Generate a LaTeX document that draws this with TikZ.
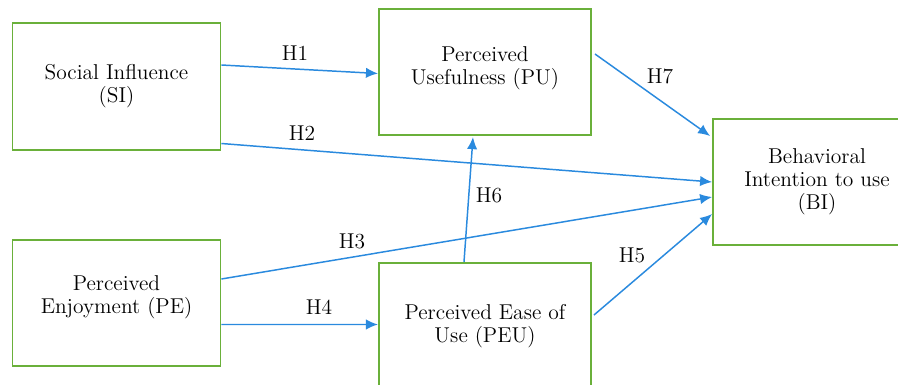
\documentclass[tikz,border=0pt]{standalone}
\usepackage{xcolor}
\usepackage{tikz}
\usetikzlibrary{arrows.meta, calc}

\definecolor{boxgreen}{RGB}{106,176,58}
\definecolor{arrblue}{RGB}{42,138,222}

\begin{document}
\begin{tikzpicture}[
  x=0.019cm, y=-0.019cm,
  every node/.style={font=\fontsize{11.6}{12.4}\selectfont},
  box/.style={rectangle, draw=boxgreen, line width=1pt, minimum width=3.95cm, minimum height=2.4cm, align=center},
  arr/.style={-{Latex[length=6.5pt,width=5.6pt]}, line width=0.8pt, arrblue},
  lbl/.style={inner sep=1pt},
]
\useasboundingbox (0,0) rectangle (898,385);

% Boxes
\node[box] (si) at (116.5,86.5) {Social Influence\\(SI)};
\node[box, minimum width=4.03cm, text depth=7pt] (pu) at (485,72) {Perceived\\Usefulness (PU)};
\node[box] (bi) at (817,182) {Behavioral\\Intention to use\\(BI)};
\node[box, minimum height=2.38cm, text depth=9pt] (pe) at (116.5,303) {Perceived\\Enjoyment (PE)};
\node[box, minimum width=4.03cm] (peu) at (485,326) {Perceived Ease of\\Use (PEU)};

% Arrows
\draw[arr] ($(si.east)+(0,-21.5)$) -- ($(pu.west)+(0,1.5)$);
\draw[arr] ($(si.east)+(0,57)$) -- (bi.west);
\draw[arr] ($(pe.east)+(0,-24)$) -- ($(bi.west)+(0,15)$);
\draw[arr] ($(pe.east)+(0,21.5)$) -- ($(peu.west)+(0,-1.5)$);
\draw[arr] ($(peu.east)+(2,-11)$) -- ($(bi.west)+(0,32)$);
\draw[arr] ($(peu.north)+(-21,0)$) -- ($(pu.south)+(-12,1)$);
\draw[arr] ($(pu.east)+(3,-18)$) -- ($(bi.west)+(-2,-46)$);

% Labels
\node[lbl] (h1) at (295,53) {H1};
\node[lbl] (h2) at (302,133) {H2};
\node[lbl] (h3) at (352,241) {H3};
\node[lbl] (h4) at (319,307) {H4};
\node[lbl] (h5) at (632,255) {H5};
\node[lbl] (h6) at (489,195) {H6};
\node[lbl] (h7) at (660,76) {H7};

\end{tikzpicture}
\end{document}
